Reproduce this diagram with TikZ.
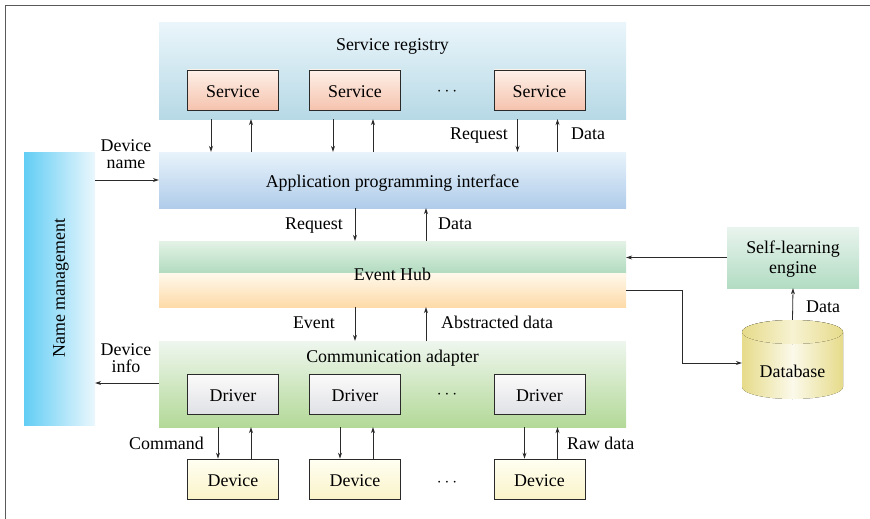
\documentclass[tikz,border=0pt]{standalone}
\usepackage{fontspec}
\newfontfamily\diagfont{Liberation Serif}
\usetikzlibrary{arrows.meta,calc}
\definecolor{framegray}{HTML}{5A5A5A}
\definecolor{linegray}{HTML}{2A2A2A}
\definecolor{regtop}{HTML}{EAF5FB}\definecolor{regbot}{HTML}{B6D9E5}
\definecolor{apitop}{HTML}{E8F3FB}\definecolor{apibot}{HTML}{B0CCEA}
\definecolor{svctop}{HTML}{FEF0E8}\definecolor{svcbot}{HTML}{F5C3AE}
\definecolor{hubgtop}{HTML}{E4F2E6}\definecolor{hubgbot}{HTML}{B1DBBF}
\definecolor{hubotop}{HTML}{FFF9EC}\definecolor{huboboot}{HTML}{FDDAA8}
\definecolor{commtop}{HTML}{EEF6EE}\definecolor{commbot}{HTML}{B3D998}
\definecolor{drvtop}{HTML}{FBFBFB}\definecolor{drvbot}{HTML}{E0E1E5}
\definecolor{devtop}{HTML}{FFFFF3}\definecolor{devbot}{HTML}{FAF3C8}
\definecolor{sltop}{HTML}{E9F4EE}\definecolor{slbot}{HTML}{B2DCC3}
\definecolor{nmleft}{HTML}{62CDF4}\definecolor{nmright}{HTML}{EBF7FD}
\definecolor{dbedge}{HTML}{E6DB8A}\definecolor{dbmid}{HTML}{FBF9EA}
\definecolor{dbtopmid}{HTML}{F7F2D2}
\begin{document}
\begin{tikzpicture}[x=1pt,y=-1pt,
  every node/.style={font=\diagfont\fontsize{17.9}{20}\selectfont, text=black},
  panel/.style={inner sep=0pt, minimum width=467pt},
  unitbox/.style={draw=linegray, line width=0.8pt, inner sep=0pt,
    minimum width=91pt, minimum height=40pt},
  svcbox/.style={unitbox, top color=svctop, bottom color=svcbot},
  drvbox/.style={unitbox, top color=drvtop, bottom color=drvbot},
  devbox/.style={unitbox, top color=devtop, bottom color=devbot},
  arr/.style={draw=linegray, line width=0.8pt, -{Stealth[length=6pt,width=4pt]}},
  txt/.style={inner sep=0pt, anchor=base},
  ltxt/.style={inner sep=0pt, anchor=base east},
  rtxt/.style={inner sep=0pt, anchor=base west},
  twoline/.style={inner sep=0pt, align=center, font=\diagfont\fontsize{17.9}{17}\selectfont}
]
\useasboundingbox (0,0) rectangle (870,519);
% outer frame (top and left edges)
\draw[framegray, line width=1.6pt] (5.5,519) -- (5.5,5.5) -- (870,5.5);

% horizontal layers
\node[panel, minimum height=96pt, top color=regtop, bottom color=regbot] (reg) at (392.5,71) {};
\node[txt] at (392.5,51) {Service registry};
\node[panel, minimum height=56pt, top color=apitop, bottom color=apibot] (api) at (392.5,180) {};
\node[txt] at (392.5,187) {Application programming interface};
\node[panel, minimum height=32pt, top color=hubgtop, bottom color=hubgbot] (hubg) at (392.5,257) {};
\node[panel, minimum height=34pt, top color=hubotop, bottom color=huboboot] (hubo) at (392.5,290) {};
\node[txt] at (392.5,280) {Event Hub};
\node[panel, minimum height=86pt, top color=commtop, bottom color=commbot] (comm) at (392.5,384) {};
\node[txt] at (392.5,362) {Communication adapter};

% side blocks
\node[inner sep=0pt, minimum width=71pt, minimum height=273pt, left color=nmleft, right color=nmright] (nm) at (59.5,288.5) {};
\node[rotate=90, inner sep=0pt] at (61,288) {Name management};
\node[inner sep=0pt, minimum width=132pt, minimum height=61pt, top color=sltop, bottom color=slbot] (sl) at (793,257.5) {};
\node[txt] at (793,253) {Self-learning};
\node[txt] at (793,273) {engine};

% database cylinder
\node[inner sep=0pt, minimum width=101pt, minimum height=79pt] (db) at (792.5,359.5) {};
\fill[left color=dbedge, right color=dbedge, middle color=dbmid]
  (742,332) -- (742,387) arc[start angle=180, end angle=360, x radius=50.5pt, y radius=12pt]
  -- (843,332) arc[start angle=0, end angle=180, x radius=50.5pt, y radius=12pt] -- cycle;
\fill[left color=dbedge, right color=dbedge, middle color=dbtopmid]
  (792.5,332) ellipse[x radius=50.5pt, y radius=12pt];
\node[txt] at (792.5,377) {Database};

% services
\node[svcbox] (s1) at (233,90) {};
\node[svcbox] (s2) at (355,90) {};
\node[svcbox] (s3) at (539.5,90) {};
\foreach \s in {s1,s2,s3} \node[txt] at ([yshift=-7pt]\s.center) {Service};
\node (sdots) at (447,92) {$\cdots$};

% drivers
\node[drvbox] (d1) at (233,394) {};
\node[drvbox] (d2) at (355,394) {};
\node[drvbox] (d3) at (539.5,394) {};
\foreach \s in {d1,d2,d3} \node[txt] at ([yshift=-7pt]\s.center) {Driver};
\node (ddots) at (447,395) {$\cdots$};

% devices
\node[devbox] (v1) at (233,479) {};
\node[devbox] (v2) at (355,479) {};
\node[devbox] (v3) at (539.5,479) {};
\foreach \s in {v1,v2,v3} \node[txt] at ([yshift=-7pt]\s.center) {Device};
\node (vdots) at (447,483) {$\cdots$};

% registry <-> API
\foreach \s in {s1,s2,s3}{
  \draw[arr] ([xshift=-22pt]\s.center |- reg.south) -- ([xshift=-22pt]\s.center |- api.north);
  \draw[arr] ([xshift=18pt]\s.center |- api.north) -- ([xshift=18pt]\s.center |- reg.south);
}
\node[ltxt] at (508,139) {Request};
\node[rtxt] at (571,139) {Data};

% API <-> Event Hub
\coordinate (dn) at (355,0);
\coordinate (up) at (426,0);
\draw[arr] (dn |- api.south) -- (dn |- hubg.north);
\draw[arr] (up |- hubg.north) -- (up |- api.south);
\node[ltxt] at (343,229) {Request};
\node[rtxt] at (438,229) {Data};

% Event Hub <-> Communication adapter
\draw[arr] (dn |- hubo.south) -- (dn |- comm.north);
\draw[arr] (up |- comm.north) -- (up |- hubo.south);
\node[ltxt] at (335,328) {Event};
\node[rtxt] at (441,328) {Abstracted data};

% drivers <-> devices
\foreach \v in {v1,v2,v3}{
  \draw[arr] ([xshift=-15pt]\v.center |- comm.south) -- ([xshift=-15pt]\v.north);
  \draw[arr] ([xshift=18pt]\v.north) -- ([xshift=18pt]\v.center |- comm.south);
}
\node[ltxt] at (204,449) {Command};
\node[rtxt] at (567,449) {Raw data};

% name management links
\draw[arr] (nm.east |- 0,180) -- (api.west |- 0,180);
\node[twoline] at (126,154.5) {Device\\name};
\draw[arr] (comm.west |- 0,383) -- (nm.east |- 0,383);
\node[twoline] at (126,358.5) {Device\\info};

% self-learning, database
\draw[arr] (sl.west) -- (sl.west -| hubg.east);
\draw[arr] (hubo.east) -- (682,290) |- (db.west |- 0,363);
\draw[arr] (db.north) -- (sl.south);
\node[rtxt] at (806,312) {Data};
\end{tikzpicture}
\end{document}
